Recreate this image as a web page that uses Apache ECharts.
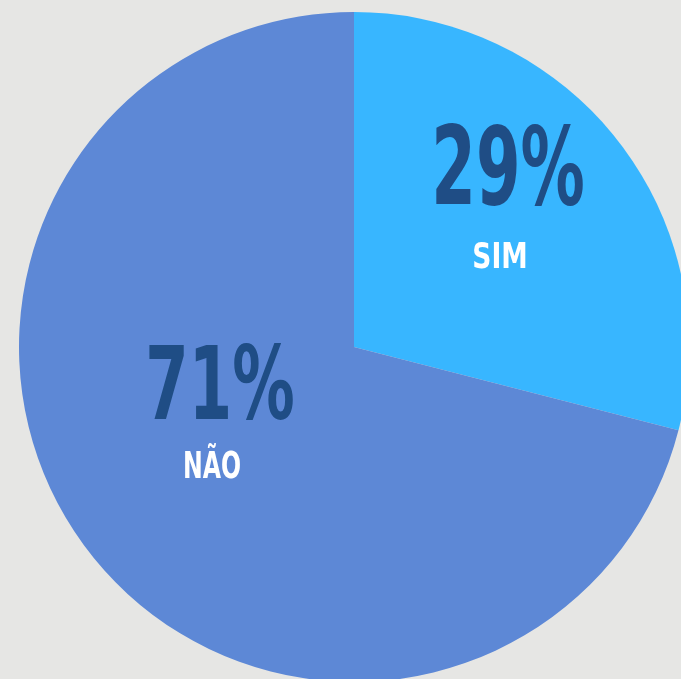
<!DOCTYPE html>
<html>
<head>
<meta charset="utf-8">
<script src="https://cdn.jsdelivr.net/npm/echarts@6/dist/echarts.min.js"></script>
<style>
  html, body { margin: 0; padding: 0; background: #e6e6e4; }
  #chart { width: 681px; height: 679px; }
</style>
</head>
<body>
<div id="chart"></div>
<script>
// Survey answers and their shares (percent)
const categories = ['SIM', 'NÃO'];
const shares = [29, 71];
const sliceColors = ['#38b6ff', '#5d88d6'];

// Where each answer's label block sits, and how it is sized
const labelSpots = [
  { pctX: 508, pctY: 176, pctSize: 108, pctScale: 0.66,
    nameX: 500, nameY: 259, nameSize: 36, nameScale: 0.82 },
  { pctX: 220, pctY: 392, pctSize: 102, pctScale: 0.68,
    nameX: 212, nameY: 468, nameSize: 38, nameScale: 0.69 }
];

const FONT = '"DejaVu Sans Condensed", "Liberation Sans Narrow", sans-serif';

const chart = echarts.init(document.getElementById('chart'));

const graphics = [];
categories.forEach((name, i) => {
  const spot = labelSpots[i];
  graphics.push({
    type: 'text',
    x: spot.pctX, y: spot.pctY,
    scaleX: spot.pctScale,
    z: 10,
    style: {
      text: shares[i] + '%',
      font: 'bold ' + spot.pctSize + 'px ' + FONT,
      fill: '#1f4d85',
      align: 'center',
      verticalAlign: 'middle'
    }
  });
  graphics.push({
    type: 'text',
    x: spot.nameX, y: spot.nameY,
    scaleX: spot.nameScale,
    z: 10,
    style: {
      text: name,
      font: 'bold ' + spot.nameSize + 'px ' + FONT,
      fill: '#ffffff',
      align: 'center',
      verticalAlign: 'middle'
    }
  });
});

chart.setOption({
  backgroundColor: '#e6e6e4',
  animation: false,
  graphic: graphics,
  series: [{
    type: 'pie',
    center: [354, 347],
    radius: [0, 335],
    startAngle: 90,
    clockwise: true,
    label: { show: false },
    labelLine: { show: false },
    emphasis: { disabled: true },
    data: categories.map((name, i) => ({
      name: name,
      value: shares[i],
      itemStyle: { color: sliceColors[i] }
    }))
  }]
});
</script>
</body>
</html>
